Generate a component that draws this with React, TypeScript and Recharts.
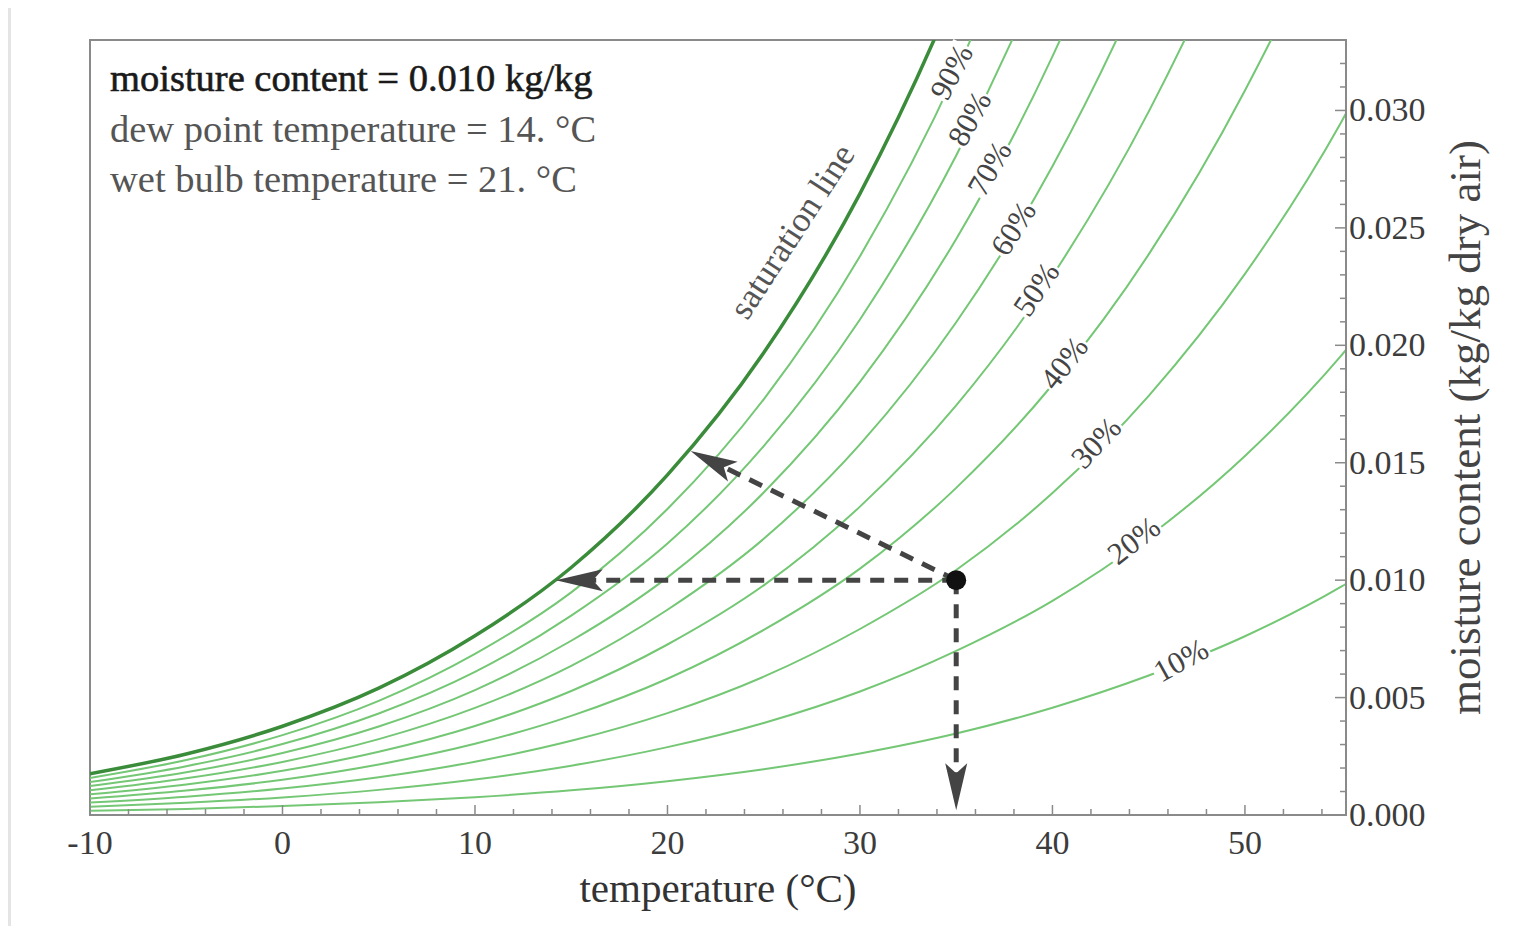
import React from 'react';
import { LineChart, Line, XAxis, YAxis, ReferenceLine, ReferenceDot, ReferenceArea } from 'recharts';

// temperature (°C) and moisture content (kg/kg)
const temps = [-10, -5, 0, 5, 10, 15, 20, 25, 30, 35, 40, 45, 50, 55, 57.5];
const rh10 = [0.00018, 0.00026, 0.00038, 0.00054, 0.00076, 0.00105, 0.00144, 0.00195, 0.00262, 0.00347, 0.00457, 0.00594, 0.00761, 0.00972, 0.011];
const rh20 = [0.00035, 0.00052, 0.00075, 0.00107, 0.00151, 0.0021, 0.00289, 0.00392, 0.00526, 0.00699, 0.00912, 0.01186, 0.01529, 0.01956, 0.0221];
const rh30 = [0.00053, 0.00078, 0.00113, 0.00161, 0.00227, 0.00316, 0.00434, 0.00589, 0.00792, 0.01043, 0.01371, 0.01785, 0.02304, 0.0295, 0.0334];
const rh40 = [0.0007, 0.00104, 0.0015, 0.00215, 0.00303, 0.00422, 0.0058, 0.00788, 0.01049, 0.01393, 0.01832, 0.02387, 0.03085, 0.03954, 0.045];
const rh50 = [0.00088, 0.0013, 0.00188, 0.00269, 0.00379, 0.00528, 0.00726, 0.00978, 0.01313, 0.01744, 0.02296, 0.02995, 0.03872, 0.04967, 0.057];
const rh60 = [0.00105, 0.00156, 0.00226, 0.00323, 0.00456, 0.00635, 0.00874, 0.01176, 0.01578, 0.02098, 0.02762, 0.03605, 0.04664, 0.0599, 0.069];
const rh70 = [0.00123, 0.00182, 0.00264, 0.00377, 0.00532, 0.00742, 0.01012, 0.01373, 0.01844, 0.02453, 0.0323, 0.04218, 0.05463, 0.07018, 0.08];
const rh80 = [0.0014, 0.00208, 0.00302, 0.00432, 0.00609, 0.00849, 0.01156, 0.01571, 0.0211, 0.02808, 0.03701, 0.04835, 0.06266, 0.08054, 0.092];
const rh90 = [0.00158, 0.00234, 0.0034, 0.00486, 0.00686, 0.00948, 0.01303, 0.0177, 0.02379, 0.03165, 0.04174, 0.05457, 0.07073, 0.09094, 0.104];
const saturation = [0.00176, 0.0026, 0.00378, 0.0054, 0.00763, 0.01054, 0.01448, 0.01968, 0.02646, 0.03523, 0.04648, 0.06079, 0.07884, 0.10139, 0.116];

const xTicks = [-10, -8, -6, -4, -2, 0, 2, 4, 6, 8, 10, 12, 14, 16, 18, 20, 22, 24, 26, 28, 30, 32, 34, 36, 38, 40, 42, 44, 46, 48, 50, 52, 54];
const yTicks = [0, 0.001, 0.002, 0.003, 0.004, 0.005, 0.006, 0.007, 0.008, 0.009, 0.01, 0.011, 0.012, 0.013, 0.014, 0.015, 0.016, 0.017, 0.018, 0.019, 0.02, 0.021, 0.022, 0.023, 0.024, 0.025, 0.026, 0.027, 0.028, 0.029, 0.03, 0.031, 0.032];

// labels sitting on the curves: temperature, moisture, text rotation
const curveLabels = [
  { text: '90%', t: 34.77, w: 0.03163, angle: -62 },
  { text: '80%', t: 35.7, w: 0.02964, angle: -61 },
  { text: '70%', t: 36.74, w: 0.02752, angle: -60 },
  { text: '60%', t: 37.98, w: 0.02497, angle: -58 },
  { text: '50%', t: 39.17, w: 0.02238, angle: -56 },
  { text: '40%', t: 40.62, w: 0.01924, angle: -52 },
  { text: '30%', t: 42.28, w: 0.01584, angle: -47 },
  { text: '20%', t: 44.24, w: 0.01168, angle: -38 },
  { text: '10%', t: 46.68, w: 0.00658, angle: -29 },
];

// current state and the points it projects to
const state = { t: 35, w: 0.01 };
const dewPoint = { t: 14.2, w: 0.01 };
const wetBulb = { t: 21.2, w: 0.0155 };

const rhSeries = [
  { key: 'rh10', values: rh10 },
  { key: 'rh20', values: rh20 },
  { key: 'rh30', values: rh30 },
  { key: 'rh40', values: rh40 },
  { key: 'rh50', values: rh50 },
  { key: 'rh60', values: rh60 },
  { key: 'rh70', values: rh70 },
  { key: 'rh80', values: rh80 },
  { key: 'rh90', values: rh90 },
];

const data = temps.map((t, i) => {
  const row: Record<string, number> = { t, sat: saturation[i] };
  rhSeries.forEach(s => { row[s.key] = s.values[i]; });
  return row;
});

const FONT = '"Liberation Serif", "Times New Roman", serif';
const AXIS = '#8a8a8a';
const TEXT = '#3c3c3c';

function XTick(props: any) {
  const { x, y, payload } = props;
  const major = payload.value % 10 === 0;
  return (
    <g>
      <line x1={x} y1={y} x2={x} y2={y - (major ? 10 : 6)} stroke={AXIS} strokeWidth={1.5} />
      {major && (
        <text x={x} y={y + 39} textAnchor="middle" fontSize={34} fontFamily={FONT} fill={TEXT}>
          {payload.value}
        </text>
      )}
    </g>
  );
}

function YTick(props: any) {
  const { x, y, payload } = props;
  const major = Math.round(payload.value * 1000) % 5 === 0;
  return (
    <g>
      <line x1={x} y1={y} x2={x - (major ? 11 : 6)} y2={y} stroke={AXIS} strokeWidth={1.5} />
      {major && (
        <text x={x + 3} y={y + 11} textAnchor="start" fontSize={34} fontFamily={FONT} fill={TEXT}>
          {payload.value.toFixed(3)}
        </text>
      )}
    </g>
  );
}

function DashedArrow(props: any) {
  const { x1, y1, x2, y2 } = props;
  const ang = Math.atan2(y2 - y1, x2 - x1);
  const deg = (ang * 180) / Math.PI;
  const back = 36;
  const ex = x2 - Math.cos(ang) * back;
  const ey = y2 - Math.sin(ang) * back;
  return (
    <g>
      <line x1={x1} y1={y1} x2={ex} y2={ey} stroke="#444" strokeWidth={5} strokeDasharray="14 10" />
      <polygon
        points="0,0 -47,-11 -37,0 -47,11"
        transform={`translate(${x2},${y2}) rotate(${deg})`}
        fill="#444"
      />
    </g>
  );
}

function CurveLabel(props: any) {
  const { cx, cy, text, angle } = props;
  return (
    <g transform={`translate(${cx},${cy}) rotate(${angle})`}>
      <rect x={-30} y={-14} width={60} height={28} fill="#fff" />
      <text x={0} y={10} textAnchor="middle" fontSize={31} fontFamily={FONT} fill="#444">
        {text}
      </text>
    </g>
  );
}

function SatLabel(props: any) {
  const { cx, cy } = props;
  return (
    <g transform={`translate(${cx},${cy}) rotate(-57)`}>
      <text x={0} y={11} textAnchor="middle" fontSize={35} fontFamily={FONT} fill="#555">
        saturation line
      </text>
    </g>
  );
}

function XTitle(props: any) {
  const vb = props.viewBox;
  return (
    <text x={vb.x + vb.width / 2} y={vb.y + 87} textAnchor="middle" fontSize={41} fontFamily={FONT} fill="#333">
      temperature (°C)
    </text>
  );
}

function YTitle(props: any) {
  const vb = props.viewBox;
  const x = vb.x + 134;
  const y = vb.y + vb.height / 2;
  return (
    <text
      x={x}
      y={y}
      transform={`rotate(-90 ${x} ${y})`}
      textAnchor="middle"
      fontSize={45}
      fontFamily={FONT}
      fill="#444"
    >
      moisture content (kg/kg dry air)
    </text>
  );
}

export default function App() {
  return (
    <div
      style={{
        marginTop: -3,
        width: 1522,
        height: 918,
        borderTop: '3px solid #e4e4e4',
        borderLeft: '3px solid #e4e4e4',
        background: '#fff',
      }}
    >
      <LineChart width={1522} height={918} data={data} margin={{ top: 32, left: 79, right: 0, bottom: 0 }}>
        <XAxis
          dataKey="t"
          type="number"
          domain={[-10, 55.25]}
          allowDataOverflow
          ticks={xTicks}
          interval={0}
          tick={<XTick />}
          tickLine={false}
          tickSize={0}
          tickMargin={0}
          axisLine={{ stroke: AXIS, strokeWidth: 2 }}
          height={111}
          label={{ content: (p: any) => <XTitle {...p} /> }}
        />
        <YAxis
          orientation="right"
          type="number"
          domain={[0, 0.033]}
          allowDataOverflow
          ticks={yTicks}
          interval={0}
          tick={<YTick />}
          tickLine={false}
          tickSize={0}
          tickMargin={0}
          axisLine={{ stroke: AXIS, strokeWidth: 2 }}
          width={187}
          label={{ content: (p: any) => <YTitle {...p} /> }}
        />
        <ReferenceArea x1={-10} x2={55.25} y1={0} y2={0.033} fill="none" stroke={AXIS} strokeWidth={2} />
        {rhSeries.map(s => (
          <Line
            key={s.key}
            dataKey={s.key}
            type="monotone"
            stroke="#74c774"
            strokeWidth={2}
            dot={false}
            isAnimationActive={false}
          />
        ))}
        <Line dataKey="sat" type="monotone" stroke="#3a8c3a" strokeWidth={3.5} dot={false} isAnimationActive={false} />
        {curveLabels.map(l => (
          <ReferenceDot
            key={l.text}
            x={l.t}
            y={l.w}
            r={1}
            shape={(p: any) => <CurveLabel cx={p.cx} cy={p.cy} text={l.text} angle={l.angle} />}
          />
        ))}
        <ReferenceDot x={26.49} y={0.02484} r={1} shape={(p: any) => <SatLabel cx={p.cx} cy={p.cy} />} />
        <ReferenceLine
          segment={[{ x: state.t, y: state.w }, { x: dewPoint.t, y: dewPoint.w }]}
          shape={(p: any) => <DashedArrow {...p} />}
        />
        <ReferenceLine
          segment={[{ x: state.t, y: state.w }, { x: wetBulb.t, y: wetBulb.w }]}
          shape={(p: any) => <DashedArrow {...p} />}
        />
        <ReferenceLine
          segment={[{ x: state.t, y: state.w }, { x: state.t, y: 0.0002 }]}
          shape={(p: any) => <DashedArrow {...p} />}
        />
        <ReferenceDot x={state.t} y={state.w} r={10} fill="#111" stroke="none" />
        <text x={99} y={83} fontSize={38.5} fontFamily={FONT} fill="#1a1a1a" stroke="#1a1a1a" strokeWidth={0.6}>
          moisture content = 0.010 kg/kg
        </text>
        <text x={99} y={134} fontSize={38.5} fontFamily={FONT} fill="#555">
          dew point temperature = 14. °C
        </text>
        <text x={99} y={184} fontSize={38.5} fontFamily={FONT} fill="#555">
          wet bulb temperature = 21. °C
        </text>
      </LineChart>
    </div>
  );
}
